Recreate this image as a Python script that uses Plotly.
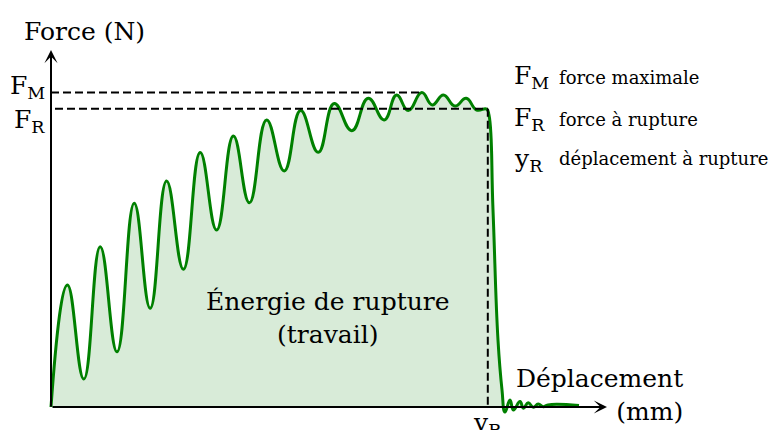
import plotly.graph_objects as go

# ---- data (displacement in arbitrary mm units, force in arbitrary N units) ----
displacement = [0.0, 4.1, 8.2, 12.3, 16.5, 20.8, 24.8, 28.9, 33.1, 37.3, 41.4, 45.6, 49.6,
                53.9, 58.3, 62.4, 66.8, 70.8, 75.2, 79.3, 83.3, 86.4, 89.3, 92.7, 95.3,
                98.1, 101.0, 103.8, 106.4, 108.9, 109.5, 110.5, 111.75, 112.75, 113.5,
                114.75, 115.6, 117.25, 118.1, 119.3, 120.6, 121.8, 123.1, 124.25, 132.0]
force = [0.0, 40.7, 9.3, 53.4, 18.4, 67.9, 32.9, 75.3, 45.9, 84.8, 59.0, 90.3, 68.1,
         95.7, 78.7, 98.8, 84.9, 101.2, 92.1, 102.9, 95.7, 104.0, 98.8, 104.8, 100.7,
         104.0, 100.3, 102.9, 99.0, 99.3, 97.3, 65.7, 22.3, 5.7, -1.7,
         2.3, -1.0, 1.8, -0.4, 1.4, -0.1, 1.0, 0.1, 0.7, 0.5]
F_R = 99.4           # force à rupture
y_R = 109.2          # déplacement à rupture
F_M = max(force)     # force maximale
x_FM = displacement[force.index(F_M)]

x_axis_end = 139.0
y_axis_end = 119.0

# pixel helpers for label placement only (origin at px (51, 407); 4 px / x unit, 3 px / y unit)
def X(px):
    return (px - 51) / 4.0

def Y(py):
    return (407 - py) / 3.0

GREEN = "#008000"
FILL = "rgb(216,235,216)"
SERIF = "DejaVu Serif"

fig = go.Figure()
fig.add_trace(go.Scatter(x=displacement, y=force, mode="lines",
                         line=dict(color=GREEN, width=3, shape="spline", smoothing=1.3),
                         fill="tozeroy", fillcolor=FILL, hoverinfo="skip"))

shapes = [
    dict(type="line", xref="x", yref="y", x0=0, y0=F_M, x1=x_FM, y1=F_M,
         line=dict(color="black", width=2, dash="8px,4px")),
    dict(type="line", xref="x", yref="y", x0=1, y0=F_R, x1=y_R, y1=F_R,
         line=dict(color="black", width=2, dash="8px,4px")),
    dict(type="line", xref="x", yref="y", x0=y_R, y0=F_R, x1=y_R, y1=0,
         line=dict(color="black", width=2, dash="8px,4px")),
]

anns = [
    # axes with arrows
    dict(x=x_axis_end, y=0, ax=0, ay=0, xref="x", yref="y", axref="x", ayref="y",
         text="", showarrow=True, arrowhead=3, arrowsize=1.1, arrowwidth=2, arrowcolor="black"),
    dict(x=0, y=y_axis_end, ax=0, ay=Y(408), xref="x", yref="y", axref="x", ayref="y",
         text="", showarrow=True, arrowhead=3, arrowsize=1.1, arrowwidth=2, arrowcolor="black"),
]

def label(text, x, y, size, xanchor="center", yanchor="middle", align="center"):
    anns.append(dict(x=x, y=y, xref="x", yref="y", text=text, showarrow=False,
                     xanchor=xanchor, yanchor=yanchor, align=align,
                     font=dict(family=SERIF, size=size, color="black")))

BIG = 25
SMALL = 18
label("Force (N)", X(84), Y(31), BIG)
label("F<sub>M</sub>", X(47), Y(87), BIG, xanchor="right")
label("F<sub>R</sub>", X(47), Y(121), BIG, xanchor="right")
label("F<sub>M</sub>", X(512), Y(77), BIG, xanchor="left")
label("F<sub>R</sub>", X(512), Y(119), BIG, xanchor="left")
label("y<sub>R</sub>", X(512), Y(160), BIG, xanchor="left")
label("force maximale", X(557), Y(77), SMALL, xanchor="left")
label("force à rupture", X(557), Y(119), SMALL, xanchor="left")
label("déplacement à rupture", X(557), Y(158), SMALL, xanchor="left")
label("Énergie de rupture<br>(travail)", X(328), Y(318), BIG)
label("Déplacement<br>(mm)", X(685), Y(395), BIG, xanchor="right", align="right")
label("y<sub>R</sub>", X(487), Y(424), BIG)

fig.update_layout(
    width=776, height=430, margin=dict(l=0, r=0, t=0, b=0),
    paper_bgcolor="white", plot_bgcolor="white", showlegend=False,
    xaxis=dict(range=[X(0), X(776)], visible=False, fixedrange=True),
    yaxis=dict(range=[Y(430), Y(0)], visible=False, fixedrange=True),
    shapes=shapes, annotations=anns,
)

fig.write_html("out.html", config={"displayModeBar": False},
               post_script="document.body.style.margin='0';document.body.style.overflow='hidden';")
